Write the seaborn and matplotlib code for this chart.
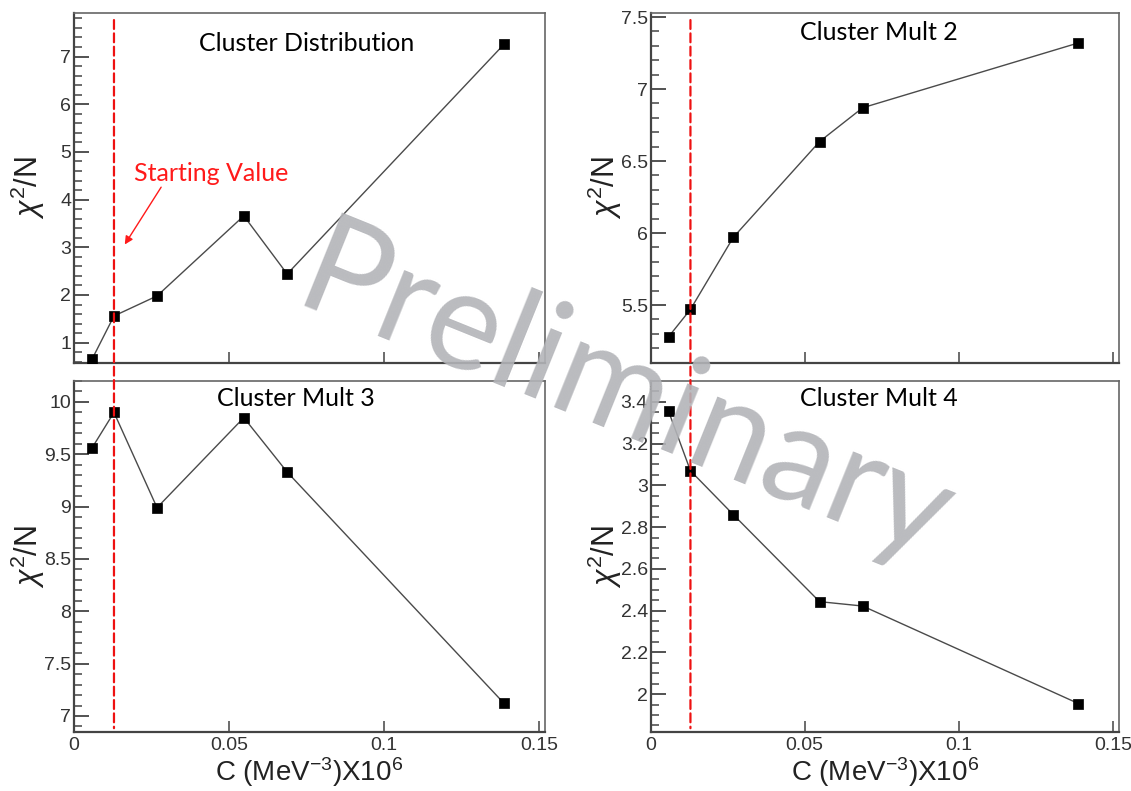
import matplotlib
matplotlib.use("Agg")
import matplotlib.pyplot as plt
import seaborn as sns
from matplotlib.patches import ConnectionPatch
from matplotlib.ticker import MultipleLocator, AutoMinorLocator, FuncFormatter

# values
c_vals = [0.0058, 0.0129, 0.0268, 0.0548, 0.0688, 0.1388]
chi_dist = [0.65, 1.56, 1.98, 3.66, 2.44, 7.26]
chi_mult2 = [5.28, 5.47, 5.97, 6.635, 6.87, 7.32]
chi_mult3 = [9.56, 9.90, 8.99, 9.85, 9.33, 7.12]
chi_mult4 = [3.355, 3.07, 2.86, 2.443, 2.422, 1.955]
start_c = 0.0129

titles = ['Cluster Distribution', 'Cluster Mult 2', 'Cluster Mult 3', 'Cluster Mult 4']

sns.set_theme(style='white')
plt.rcParams['font.family'] = ['Liberation Sans', 'DejaVu Sans']
plt.rcParams['mathtext.fontset'] = 'custom'
plt.rcParams['mathtext.rm'] = 'Liberation Sans'
plt.rcParams['mathtext.it'] = 'Liberation Sans:italic'

W, H = 1131, 791
fig = plt.figure(figsize=(W / 100, H / 100), dpi=100)

def box(l, t, r, b):
  return fig.add_axes([l / W, 1 - b / H, (r - l) / W, (b - t) / H])

ax_tl = box(74, 12.7, 545, 362.7)
ax_tr = box(650.7, 12.7, 1119, 362.7)
ax_bl = box(74, 381, 545, 731.7)
ax_br = box(650.7, 381, 1119, 731.7)

fmt = FuncFormatter(lambda v, p: '%g' % round(v, 4))

def panel(ax, chi, ylim, major, nminor, title, tpos, bottom):
  sns.lineplot(x=c_vals, y=chi, ax=ax, color='#4a4a4a', lw=1, sort=False)
  sns.scatterplot(x=c_vals, y=chi, ax=ax, marker='s', s=50, color='black',
                  edgecolor='black', linewidth=0.5, zorder=3)
  ax.set_xlim(0, 0.152)
  ax.set_ylim(*ylim)
  ax.xaxis.set_major_locator(MultipleLocator(0.05))
  ax.yaxis.set_major_locator(MultipleLocator(major))
  ax.yaxis.set_minor_locator(AutoMinorLocator(nminor))
  ax.xaxis.set_major_formatter(fmt)
  ax.yaxis.set_major_formatter(fmt)
  ax.tick_params(axis='y', which='major', direction='in', length=11, width=1.3,
                 color='#444444', labelsize=14, labelcolor='#333333', pad=2, left=True)
  ax.tick_params(axis='y', which='minor', direction='in', length=6, width=1.1,
                 color='#444444', left=True)
  ax.tick_params(axis='x', which='major', direction='in', length=8, width=1.1,
                 color='#444444', labelsize=14, labelcolor='#333333', pad=4,
                 bottom=True, labelbottom=bottom)
  for side in ['left', 'bottom']:
    ax.spines[side].set_color('#444444')
    ax.spines[side].set_linewidth(1.6)
  for side in ['top', 'right']:
    ax.spines[side].set_color('#666666')
    ax.spines[side].set_linewidth(1.2)
  ax.set_ylabel(r'$\chi^{2}$/N', fontsize=22, color='#222222')
  ax.yaxis.set_label_coords(-0.058, 0.5)
  if bottom:
    ax.set_xlabel(r'C (MeV$^{-3}$)X10$^{6}$', fontsize=20, color='#222222')
    ax.xaxis.set_label_coords(0.5, -0.066)
  ax.text(tpos[0], tpos[1], title, transform=ax.transAxes, ha='center', va='center',
          fontsize=18, family=['Lato', 'DejaVu Sans'], color='black')

panel(ax_tl, chi_dist, (0.58, 7.92), 1, 5, titles[0], (0.493, 0.913), False)
panel(ax_tr, chi_mult2, (5.10, 7.53), 0.5, 5, titles[1], (0.487, 0.942), False)
panel(ax_bl, chi_mult3, (6.85, 10.2), 0.5, 5, titles[2], (0.471, 0.951), True)
panel(ax_br, chi_mult4, (1.82, 3.5), 0.2, 4, titles[3], (0.487, 0.951), True)

# starting value dashed line running through both rows
for top, bot in [(ax_tl, ax_bl), (ax_tr, ax_br)]:
  con = ConnectionPatch(xyA=(start_c, 0.979), coordsA=top.get_xaxis_transform(),
                        xyB=(start_c, 0.01), coordsB=bot.get_xaxis_transform(),
                        color='#ee1111', lw=1.6, linestyle=(0, (4, 2)), zorder=5)
  fig.add_artist(con)

ax_tl.text(0.0193, 4.55, 'Starting Value', color='#ff1a1a', fontsize=18,
           family=['Lato', 'DejaVu Sans'], ha='left', va='center')
ax_tl.annotate('', xy=(0.0159, 3.01), xytext=(0.0286, 4.31),
               arrowprops=dict(arrowstyle='-|>', color='#ff1a1a', lw=1, mutation_scale=12))

fig.text(625 / W, 1 - 398 / H, 'Preliminary', fontsize=100, family=['Lato', 'DejaVu Sans'],
         color='#b3b4b8', alpha=0.9, rotation=-22, ha='center', va='center', zorder=10)

fig.savefig('out.png', dpi=100)
